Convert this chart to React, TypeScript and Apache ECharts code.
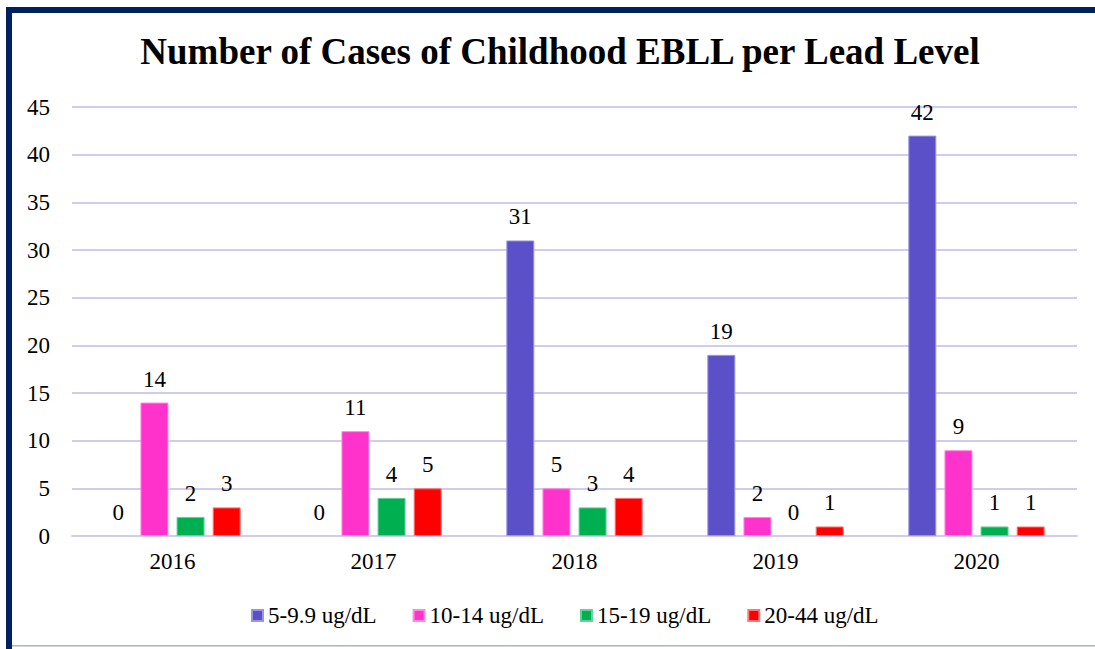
import React, { useEffect, useRef } from "react";
import * as echarts from "echarts";

const years = ["2016", "2017", "2018", "2019", "2020"];
const seriesNames = ["5-9.9 ug/dL", "10-14 ug/dL", "15-19 ug/dL", "20-44 ug/dL"];
const s5to9 = [0, 0, 31, 19, 42];
const s10to14 = [14, 11, 5, 2, 9];
const s15to19 = [2, 4, 3, 0, 1];
const s20to44 = [3, 5, 4, 1, 1];
const colors = ["#5B50C8", "#FF33CC", "#00B050", "#FF0000"];
const borders = ["#9C96E0", "#FF8AE0", "#66D099", "#FF7777"];
const yTicks = { min: 0, max: 45, interval: 5 };

export default function App() {
  const ref = useRef<HTMLDivElement>(null);
  useEffect(() => {
    document.body.style.margin = "0";
    const chart = echarts.init(ref.current!, null, { renderer: "svg" });
    const font = "'Liberation Serif', 'Times New Roman', serif";
    const data = [s5to9, s10to14, s15to19, s20to44];
    chart.setOption({
      animation: false,
      backgroundColor: "#ffffff",
      textStyle: { fontFamily: font },
      title: {
        text: "Number of Cases of Childhood EBLL per Lead Level",
        left: 555,
        textAlign: "center",
        top: 28,
        textStyle: { fontFamily: font, fontSize: 37, fontWeight: "bold", color: "#000" },
      },
      legend: {
        top: 599,
        left: 246,
        itemWidth: 11,
        itemHeight: 11,
        itemGap: 36,
        icon: "rect",
        textStyle: { fontFamily: font, fontSize: 23, color: "#000" },
        data: seriesNames,
      },
      grid: { left: 72, right: 18, top: 107, bottom: 113 },
      xAxis: {
        type: "category",
        data: years,
        axisLine: { lineStyle: { color: "#D0CCF0", width: 2 } },
        axisTick: { show: false },
        axisLabel: { fontFamily: font, fontSize: 23, color: "#000", margin: 14 },
      },
      yAxis: {
        type: "value",
        min: yTicks.min,
        max: yTicks.max,
        interval: yTicks.interval,
        axisLine: { show: false },
        axisTick: { show: false },
        splitLine: { lineStyle: { color: "#D0CCF0", width: 2 } },
        axisLabel: { fontFamily: font, fontSize: 23, color: "#000", margin: 22 },
      },
      series: seriesNames.map((name, i) => ({
        name,
        type: "bar",
        data: data[i].map((v) => ({
          value: v,
          itemStyle: { borderWidth: v === 0 ? 0 : 1 },
        })),
        barWidth: 28,
        barGap: "29%",
        itemStyle: { color: colors[i], borderColor: borders[i], borderWidth: 1 },
        label: {
          show: true,
          position: "top",
          distance: 12,
          fontFamily: font,
          fontSize: 23,
          color: "#000",
        },
      })),
      graphic: [
        { type: "rect", shape: { x: 6, y: 7, width: 1089, height: 6 }, style: { fill: "#002060" } },
        { type: "rect", shape: { x: 6, y: 7, width: 6, height: 642 }, style: { fill: "#002060" } },
        { type: "rect", shape: { x: 12, y: 645, width: 1083, height: 1.5 }, style: { fill: "#A6B4CC" } },
      ],
    });
    return () => chart.dispose();
  }, []);
  return <div ref={ref} style={{ width: 1095, height: 649 }} />;
}
